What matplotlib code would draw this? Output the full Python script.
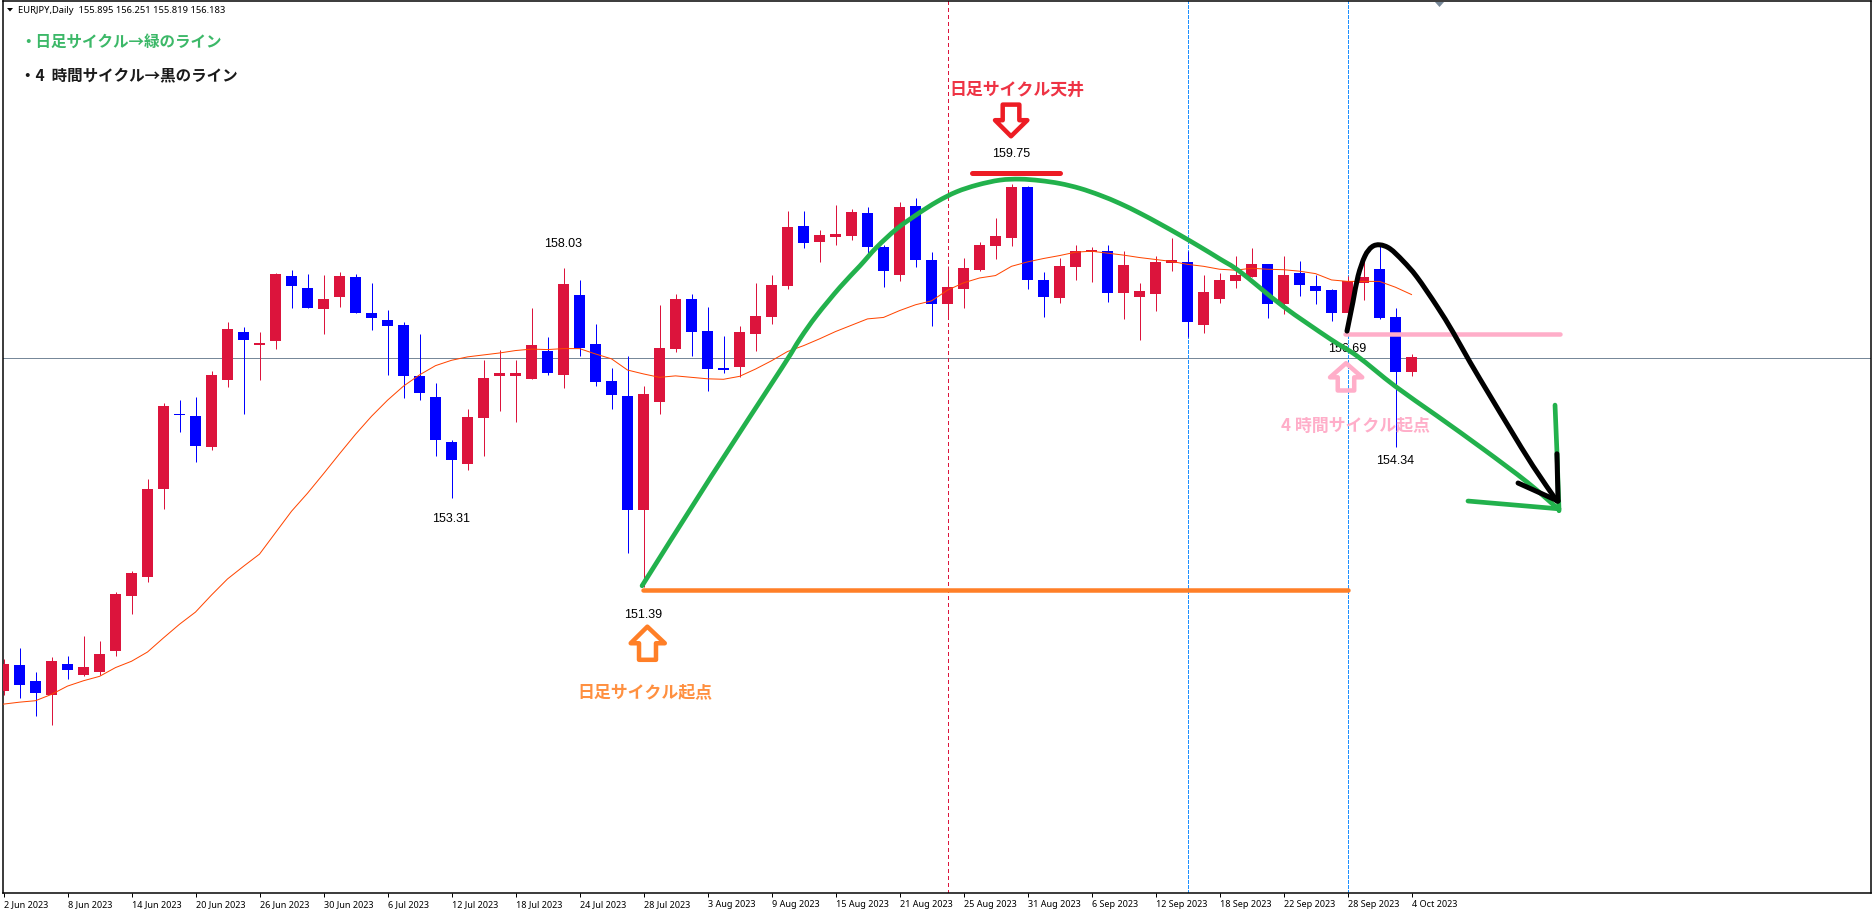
import matplotlib
matplotlib.use('Agg')
import matplotlib.pyplot as plt
from matplotlib.patches import Polygon, PathPatch
from matplotlib.path import Path
import numpy as np

W, H_PX = 1872, 912

opens = [149.34, 149.87, 149.54, 149.26, 149.89, 149.67, 149.73, 150.17, 151.29, 151.67, 153.49, 155.03, 154.98, 154.34, 155.73, 156.71, 156.44, 156.53, 157.86, 157.62,
         157.19, 157.42, 157.84, 157.10, 156.96, 156.85, 155.80, 155.38, 154.46, 154.01, 154.95, 155.81, 155.80, 155.75, 156.32, 155.83, 157.47, 156.46, 155.70, 155.40, 153.06,
         155.27, 156.36, 157.39, 156.73, 155.97, 155.99, 156.67, 157.02, 157.66, 158.89, 158.56, 158.66, 158.68, 159.15, 158.46, 157.88, 159.30, 158.19, 157.29, 157.59,
         157.98, 158.48, 158.64, 159.69, 157.78, 157.41, 158.05, 158.35, 158.37, 157.51, 157.43, 157.49, 158.13, 158.15, 156.85, 157.39, 157.76, 157.84, 158.11, 157.29,
         157.92, 157.66, 157.57, 157.10, 157.72, 158.00, 157.02, 155.89]
highs = [149.99, 150.22, 149.73, 150.04, 150.06, 150.47, 150.36, 151.38, 151.80, 153.69, 155.25, 155.31, 155.38, 155.91, 156.92, 156.82, 156.71, 157.92, 157.98, 157.90,
         157.88, 157.95, 157.90, 157.72, 157.16, 156.92, 156.67, 155.67, 154.49, 155.13, 156.13, 156.34, 156.13, 157.21, 156.61, 158.02, 157.78, 156.88, 155.97, 156.22, 155.60,
         157.27, 157.49, 157.49, 157.22, 156.63, 156.83, 157.72, 157.88, 159.20, 159.20, 158.81, 159.32, 159.24, 159.28, 158.50, 159.38, 159.46, 158.35, 158.07, 158.23,
         158.56, 159.05, 159.75, 159.71, 157.94, 158.23, 158.50, 158.46, 158.50, 158.37, 157.72, 158.27, 158.64, 158.37, 157.88, 157.92, 158.27, 158.44, 158.11, 158.27,
         158.17, 157.88, 157.59, 157.86, 158.33, 158.52, 157.20, 156.26]
lows = [149.26, 149.20, 148.83, 148.65, 149.59, 149.64, 149.67, 150.05, 150.93, 151.57, 153.08, 154.65, 154.05, 154.29, 155.59, 155.03, 155.73, 156.37, 157.21, 157.21,
        156.66, 157.23, 157.11, 156.76, 155.83, 155.36, 155.32, 154.17, 153.31, 153.88, 154.17, 155.08, 154.87, 155.75, 155.83, 155.57, 156.22, 155.61, 155.13, 152.17, 151.47,
        155.03, 156.30, 156.22, 155.50, 155.87, 155.79, 156.32, 156.88, 157.59, 158.44, 158.15, 158.50, 158.60, 158.31, 157.64, 157.76, 158.05, 156.83, 157.02, 157.20,
        157.96, 158.21, 158.48, 157.59, 157.02, 157.31, 157.78, 157.74, 157.33, 156.98, 156.55, 157.14, 157.96, 156.61, 156.69, 157.31, 157.61, 157.84, 157.00, 157.08,
        157.45, 157.29, 156.94, 157.10, 157.37, 156.98, 154.34, 155.81]
closes = [149.89, 149.47, 149.29, 149.95, 149.78, 149.84, 150.10, 151.33, 151.76, 153.49, 155.19, 155.00, 154.37, 155.83, 156.77, 156.55, 156.49, 157.90, 157.65, 157.21,
          157.39, 157.86, 157.11, 156.99, 156.84, 155.81, 155.45, 154.50, 154.09, 154.97, 155.77, 155.87, 155.87, 156.44, 155.86, 157.70, 156.39, 155.69, 155.42, 153.06, 155.44,
          156.38, 157.39, 156.71, 155.95, 155.93, 156.71, 157.04, 157.68, 158.87, 158.54, 158.70, 158.72, 159.18, 158.46, 157.96, 159.28, 158.19, 157.29, 157.64, 158.03,
          158.50, 158.68, 159.69, 157.78, 157.43, 158.07, 158.37, 158.39, 157.51, 158.09, 157.55, 158.15, 158.19, 156.92, 157.53, 157.78, 157.88, 158.11, 157.29, 157.88,
          157.68, 157.55, 157.10, 157.76, 157.84, 157.00, 155.89, 156.20]
ma_values = [149.07, 149.11, 149.14, 149.27, 149.44, 149.55, 149.64, 149.82, 149.95, 150.14, 150.43, 150.71, 150.96, 151.31, 151.64, 151.90, 152.15, 152.59, 153.03, 153.40,
             153.80, 154.21, 154.61, 154.98, 155.31, 155.60, 155.83, 156.02, 156.13, 156.20, 156.24, 156.28, 156.33, 156.36, 156.35, 156.37, 156.37, 156.26, 156.16, 155.93,
             155.85, 155.78, 155.81, 155.78, 155.75, 155.74, 155.80, 155.95, 156.12, 156.31, 156.43, 156.57, 156.72, 156.85, 156.98, 157.01, 157.15, 157.27, 157.35, 157.57,
             157.72, 157.82, 157.87, 158.06, 158.15, 158.22, 158.28, 158.35, 158.37, 158.33, 158.29, 158.24, 158.20, 158.16, 158.10, 158.06, 158.00, 157.98, 158.02, 158.00,
             157.99, 157.96, 157.91, 157.78, 157.75, 157.75, 157.75, 157.63, 157.48]
tick_bars = list(range(0, 89, 4))
tick_labels = ['2 Jun 2023', '8 Jun 2023', '14 Jun 2023', '20 Jun 2023', '26 Jun 2023', '30 Jun 2023',
               '6 Jul 2023', '12 Jul 2023', '18 Jul 2023', '24 Jul 2023', '28 Jul 2023', '3 Aug 2023',
               '9 Aug 2023', '15 Aug 2023', '21 Aug 2023', '25 Aug 2023', '31 Aug 2023', '6 Sep 2023',
               '12 Sep 2023', '18 Sep 2023', '22 Sep 2023', '28 Sep 2023', '4 Oct 2023']
bid_price = 156.183
red_vline_bar = 59
blue_vline_bars = [74, 84]

daily_curve_x = [39.91, 44.26, 48.64, 49.78, 50.82, 52.28, 53.53, 54.57, 55.83, 57.11, 58.36, 59.57, 60.86, 62.28, 63.53, 64.78, 66.03, 67.28, 68.53, 69.78, 71.03, 72.28, 73.53, 74.78, 76.03, 77.28, 79.97, 82.91, 84.59, 86.97, 89.59, 92.47, 95.22, 97.16]
daily_curve_y = [151.50, 153.76, 155.97, 156.57, 157.05, 157.63, 158.07, 158.45, 158.83, 159.13, 159.39, 159.59, 159.73, 159.83, 159.85, 159.82, 159.76, 159.66, 159.52, 159.35, 159.15, 158.93, 158.70, 158.46, 158.21, 157.95, 157.24, 156.57, 156.22, 155.60, 154.99, 154.31, 153.63, 153.08]
h4_curve_x = [83.97, 84.34, 84.66, 85.09, 85.53, 86.03, 86.66, 87.47, 88.34, 89.59, 90.59, 91.66, 92.91, 94.16, 95.59, 97.09]
h4_curve_y = [156.73, 157.33, 157.86, 158.27, 158.46, 158.50, 158.42, 158.17, 157.84, 157.24, 156.71, 156.09, 155.40, 154.72, 153.96, 153.24]
green_head_a_x, green_head_a_y = [96.97, 97.09, 97.22], [155.21, 154.25, 153.04]
green_head_b_x, green_head_b_y = [91.53, 97.22], [153.24, 153.08]
black_head_a_x, black_head_a_y = [97.09, 97.16], [154.21, 153.24]
black_head_b_x, black_head_b_y = [94.66, 97.16], [153.61, 153.24]
pink_line_x, pink_line_y = [83.84, 97.28], [156.67, 156.67]
orange_line_x, orange_line_y = [39.97, 84.03], [151.41, 151.41]
red_line_x, red_line_y = [60.53, 66.03], [159.98, 159.98]
red_arrow_x = [62.45, 63.49, 63.49, 63.99, 62.97, 61.97, 62.45]
red_arrow_y = [161.38, 161.38, 161.06, 161.06, 160.73, 161.06, 161.06]
orange_arrow_x = [40.24, 41.33, 40.78, 40.78, 39.72, 39.72, 39.20]
orange_arrow_y = [150.66, 150.32, 150.32, 149.98, 149.98, 150.32, 150.32]
pink_arrow_x = [83.91, 84.92, 84.42, 84.42, 83.39, 83.39, 82.91]
pink_arrow_y = [156.07, 155.78, 155.78, 155.51, 155.51, 155.78, 155.78]
extreme_labels = ['158.03', '153.31', '151.39', '159.75', '156.69', '154.34']
extreme_x = [34.97, 27.97, 39.97, 62.97, 83.97, 86.97]
extreme_y = [158.54, 152.90, 150.92, 160.39, 156.38, 154.08]

RED, BLUE = '#dc143c', '#0000ff'
GREEN, PINK, ORANGE, PAINT_RED = '#22b14c', '#ffaec9', '#ff7f27', '#ed1c24'
JP = ['Noto Sans CJK JP', 'DejaVu Sans']
px = 0.72

fig = plt.figure(figsize=(W / 100, H_PX / 100), dpi=100, facecolor='white')
left, right, top, bottom = 2.5, 1871, 2, 894
ax = fig.add_axes([left / W, 1 - bottom / H_PX, (right - left) / W, (bottom - top) / H_PX])
ax.set_xlim((left - 3.5) / 16, (right - 3.5) / 16)
ax.set_ylim(159.75 - (bottom - 185) / 48.7, 159.75 + (185 - top) / 48.7)
for s in ax.spines.values():
    s.set_linewidth(1.5 * px)
ax.set_yticks([])
ax.set_xticks(tick_bars)
ax.set_xticklabels(tick_labels, ha='left', fontsize=6.5, family='Noto Sans', color='black')
ax.tick_params(axis='x', length=3 * px * 1.3, width=px, pad=1.5)

bars = np.arange(len(opens))
o, h, l, c = map(np.array, (opens, highs, lows, closes))
colors = np.where(c >= o, RED, BLUE)
ax.axhline(bid_price, color='#778899', lw=px, zorder=1)
ax.axvline(red_vline_bar, color=RED, lw=px, ls=(0, (3, 3)), zorder=1, antialiased=False)
for b in blue_vline_bars:
    ax.axvline(b, color='#1e90ff', lw=px, ls=(0, (3, 2)), zorder=1, antialiased=False)
ax.vlines(bars, l, h, colors=colors, lw=px, zorder=2)
ax.bar(bars, np.abs(c - o), bottom=np.minimum(o, c), width=11 / 16, color=colors,
       linewidth=0, zorder=3, antialiased=False)
ax.plot(bars, ma_values, color='#ff4500', lw=px, zorder=4)

for t, x, y in zip(extreme_labels, extreme_x, extreme_y):
    ax.text(x, y, t, ha='center', va='center', fontsize=9, family='Liberation Sans', color='black', zorder=5)


def stroke(x, y, color, w, z):
    ax.plot(x, y, color=color, lw=w * px, solid_capstyle='round', solid_joinstyle='round', zorder=z)


def smooth_stroke(x, y, color, w, z):
    # Catmull-Rom through the read points, drawn as a Bezier path
    p = np.column_stack([x, y])
    q = np.vstack([p[0], p, p[-1]])
    verts, codes = [p[0]], [Path.MOVETO]
    for i in range(1, len(q) - 2):
        verts += [q[i] + (q[i + 1] - q[i - 1]) / 6, q[i + 1] - (q[i + 2] - q[i]) / 6, q[i + 1]]
        codes += [Path.CURVE4] * 3
    ax.add_patch(PathPatch(Path(verts, codes), fill=False, edgecolor=color, lw=w * px,
                           capstyle='round', joinstyle='round', zorder=z))


stroke(orange_line_x, orange_line_y, ORANGE, 4.5, 6)
stroke(red_line_x, red_line_y, PAINT_RED, 5, 6)
stroke(pink_line_x, pink_line_y, PINK, 4.5, 6)
smooth_stroke(daily_curve_x, daily_curve_y, GREEN, 4.7, 7)
stroke(green_head_a_x, green_head_a_y, GREEN, 4.7, 7)
stroke(green_head_b_x, green_head_b_y, GREEN, 4.7, 7)
smooth_stroke(h4_curve_x, h4_curve_y, 'black', 5, 8)
stroke(black_head_a_x, black_head_a_y, 'black', 5, 8)
stroke(black_head_b_x, black_head_b_y, 'black', 5, 8)

for xs, ys, col in ((red_arrow_x, red_arrow_y, PAINT_RED), (orange_arrow_x, orange_arrow_y, ORANGE), (pink_arrow_x, pink_arrow_y, PINK)):
    ax.add_patch(Polygon(np.column_stack([xs, ys]), closed=True, fill=False, edgecolor=col,
                         lw=4.5 * px, joinstyle='round', zorder=6))

ax.text(63.34, 161.70, '日足サイクル天井', color='#ee3344', fontsize=12.2, family=JP, weight='bold', ha='center', va='center', zorder=6)
ax.text(40.06, 149.34, '日足サイクル起点', color='#ff9040', fontsize=12.2, family=JP, weight='bold', ha='center', va='center', zorder=6)
ax.text(84.47, 154.80, '4 時間サイクル起点', color=PINK, fontsize=12.2, family=JP, weight='bold', ha='center', va='center', zorder=6)


def ft(xp, yp, s, **kw):
    fig.text(xp / W, 1 - yp / H_PX, s, va='center', **kw)


ft(18, 10.5, 'EURJPY,Daily  155.895 156.251 155.819 156.183', fontsize=6.75, family='Noto Sans', color='black')
ft(20, 42, '・日足サイクル→緑のライン', fontsize=11.2, family=JP, weight='bold', color='#3cb868')
ft(20, 75, '・4  時間サイクル→黒のライン', fontsize=11.2, family=JP, weight='bold', color='#1a1a1a')


def tri(points, color):
    fig.add_artist(Polygon([(a / W, 1 - b / H_PX) for a, b in points], closed=True, facecolor=color,
                           edgecolor='none', transform=fig.transFigure))


tri([(7, 9), (13, 9), (10, 12.5)], 'black')
tri([(1435, 3), (1444, 3), (1439.5, 8)], '#778899')

fig.savefig('out.png', dpi=100, facecolor='white')
